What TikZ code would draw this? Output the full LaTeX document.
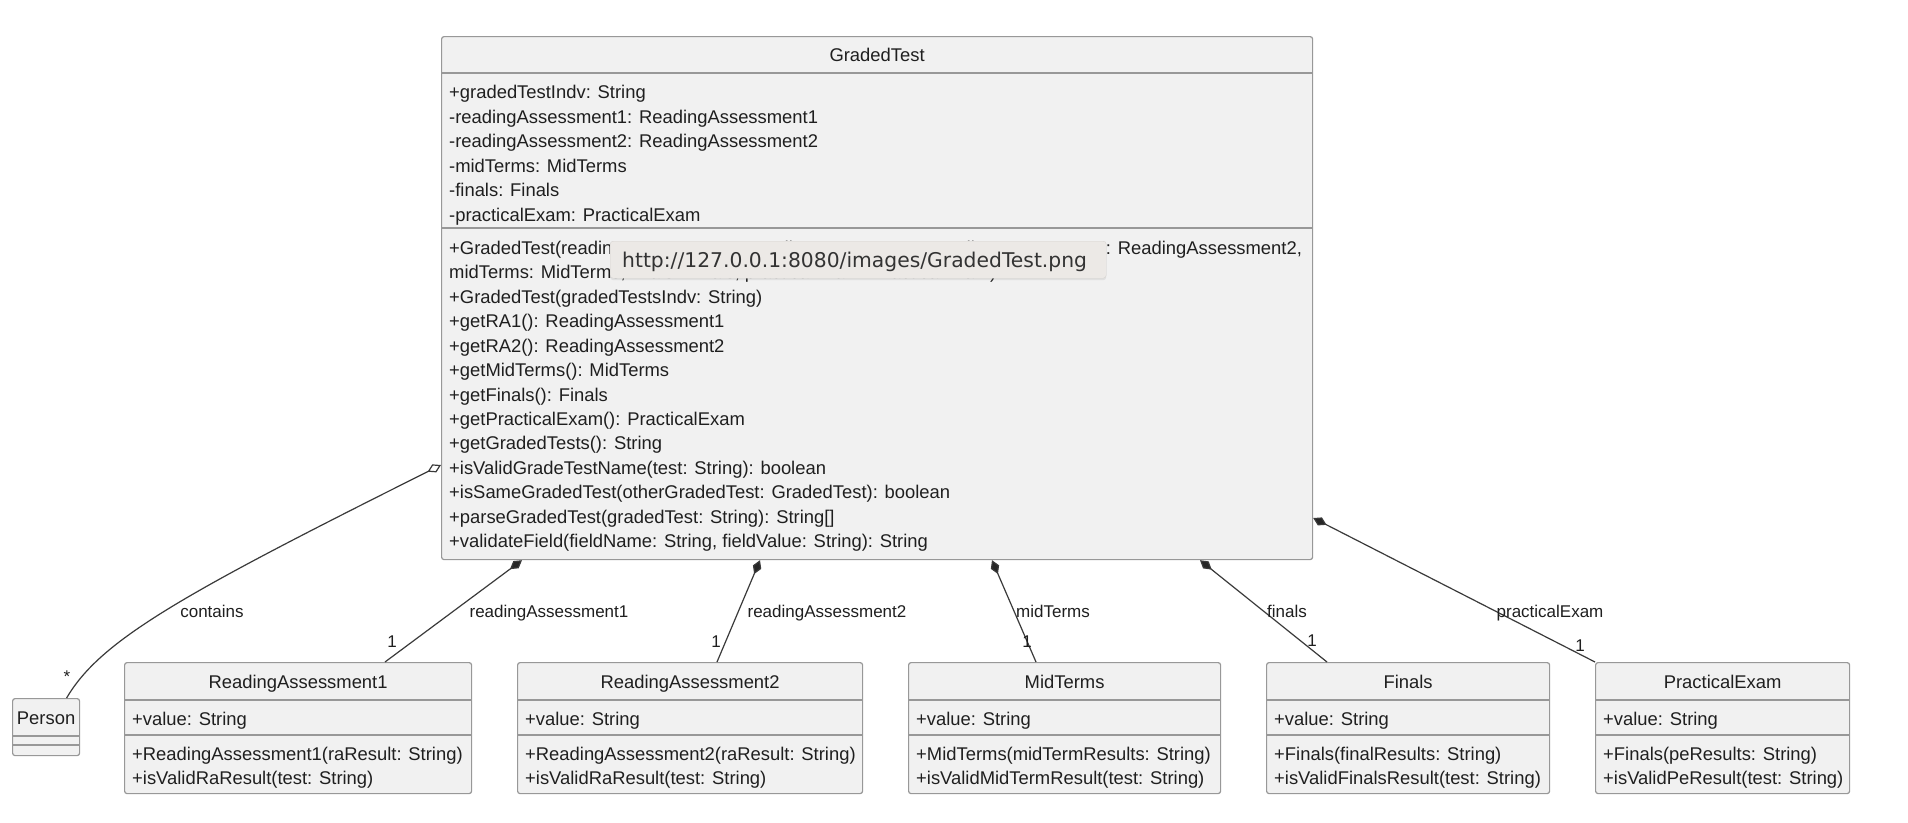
\documentclass[tikz,border=0pt]{standalone}
\usepackage{fontspec}
\setmainfont{Liberation Sans}
\newfontfamily\tipfont{DejaVu Sans}
\usetikzlibrary{arrows.meta, positioning, shadows}

\definecolor{boxfill}{HTML}{F1F1F1}
\definecolor{boxline}{HTML}{989898}
\definecolor{linkline}{HTML}{3A3A3A}
\definecolor{tipfill}{HTML}{ECE9E6}
\definecolor{tipline}{HTML}{D6D3D0}
\definecolor{tiptext}{HTML}{333333}

\newcommand{\umlfont}{\fontsize{18.4}{24.45}\selectfont}
\newcommand{\umlrolefont}{\fontsize{17}{20}\selectfont}

\begin{document}
\begin{tikzpicture}[
  x=1pt, y=-1pt,
  classbox/.style={draw=boxline, fill=boxfill, line width=1.2pt, rounded corners=2.5pt, inner sep=0pt, anchor=north west},
  sepline/.style={draw=boxline, line width=1.2pt},
  classname/.style={font=\umlfont, text=black!88, inner sep=0pt, anchor=base},
  members/.style={font=\umlfont, text=black!88, align=left, inner sep=0pt},
  rolelabel/.style={font=\umlrolefont, text=black!88, inner sep=0pt, anchor=base},
  tipbox/.style={draw=tipline, fill=tipfill, rounded corners=3pt, inner sep=0pt, anchor=north west,
    drop shadow={shadow xshift=0pt, shadow yshift=-2pt, opacity=0.15}},
  compo/.style={draw=linkline, line width=1.2pt, {Diamond[length=15pt, width=9pt, fill=black!85]}-},
  aggro/.style={draw=linkline, line width=1.2pt, {Diamond[open, length=15pt, width=9pt]}-}
]
\path[use as bounding box, fill=white] (0,0) rectangle (1908,822);

% GradedTest
\node[classbox, minimum width=871pt, minimum height=523pt] (gt) at (441,36) {};
\node[classname] (gtName) at ([yshift=-25.6pt]gt.north) {GradedTest};
\draw[sepline] ([yshift=-37pt]gt.north west) -- ([yshift=-37pt]gt.north east);
\draw[sepline] ([yshift=-192pt]gt.north west) -- ([yshift=-192pt]gt.north east);
\node[members, below right=49.3pt and 8pt of gt.north west] (gtAttr) {+gradedTestIndv: String\\
  -readingAssessment1: ReadingAssessment1\\
  -readingAssessment2: ReadingAssessment2\\
  -midTerms: MidTerms\\
  -finals: Finals\\
  -practicalExam: PracticalExam};
\node[members, below right=204.8pt and 8pt of gt.north west] (gtOps) {+GradedTest(readingAssessment1: ReadingAssessment1, readingAssessment2: ReadingAssessment2,\\
  midTerms: MidTerms, finals: Finals, practicalExam: PracticalExam)\\
  +GradedTest(gradedTestsIndv: String)\\
  +getRA1(): ReadingAssessment1\\
  +getRA2(): ReadingAssessment2\\
  +getMidTerms(): MidTerms\\
  +getFinals(): Finals\\
  +getPracticalExam(): PracticalExam\\
  +getGradedTests(): String\\
  +isValidGradeTestName(test: String): boolean\\
  +isSameGradedTest(otherGradedTest: GradedTest): boolean\\
  +parseGradedTest(gradedTest: String): String[]\\
  +validateField(fieldName: String, fieldValue: String): String};

% tooltip over the class
\node[tipbox, minimum width=496pt, minimum height=37pt] (tip) at (610,241) {};
\node[font=\tipfont\fontsize{20.3}{24}\selectfont, text=tiptext, inner sep=0pt, anchor=base west] (tipText) at (622,267) {http://127.0.0.1:8080/images/GradedTest.png};

% Person
\node[classbox, minimum width=67pt, minimum height=57pt] (person) at (12,698) {};
\node[classname] (personName) at ([yshift=-26pt]person.north) {Person};
\draw[sepline] ([yshift=-38pt]person.north west) -- ([yshift=-38pt]person.north east);
\draw[sepline] ([yshift=-47pt]person.north west) -- ([yshift=-47pt]person.north east);

% ReadingAssessment1
\node[classbox, minimum width=347pt, minimum height=131pt] (ra1) at (124,662) {};
\node[classname] (ra1Name) at ([yshift=-26pt]ra1.north) {ReadingAssessment1};
\draw[sepline] ([yshift=-38pt]ra1.north west) -- ([yshift=-38pt]ra1.north east);
\draw[sepline] ([yshift=-73pt]ra1.north west) -- ([yshift=-73pt]ra1.north east);
\node[members, below right=49.8pt and 8pt of ra1.north west] (ra1Attr) {+value: String};
\node[members, below right=84.8pt and 8pt of ra1.north west] (ra1Ops) {+ReadingAssessment1(raResult: String)\\+isValidRaResult(test: String)};

% ReadingAssessment2
\node[classbox, minimum width=345pt, minimum height=131pt] (ra2) at (517,662) {};
\node[classname] (ra2Name) at ([yshift=-26pt]ra2.north) {ReadingAssessment2};
\draw[sepline] ([yshift=-38pt]ra2.north west) -- ([yshift=-38pt]ra2.north east);
\draw[sepline] ([yshift=-73pt]ra2.north west) -- ([yshift=-73pt]ra2.north east);
\node[members, below right=49.8pt and 8pt of ra2.north west] (ra2Attr) {+value: String};
\node[members, below right=84.8pt and 8pt of ra2.north west] (ra2Ops) {+ReadingAssessment2(raResult: String)\\+isValidRaResult(test: String)};

% MidTerms
\node[classbox, minimum width=312pt, minimum height=131pt] (mid) at (908,662) {};
\node[classname] (midName) at ([yshift=-26pt]mid.north) {MidTerms};
\draw[sepline] ([yshift=-38pt]mid.north west) -- ([yshift=-38pt]mid.north east);
\draw[sepline] ([yshift=-73pt]mid.north west) -- ([yshift=-73pt]mid.north east);
\node[members, below right=49.8pt and 8pt of mid.north west] (midAttr) {+value: String};
\node[members, below right=84.8pt and 8pt of mid.north west] (midOps) {+MidTerms(midTermResults: String)\\+isValidMidTermResult(test: String)};

% Finals
\node[classbox, minimum width=283pt, minimum height=131pt] (fin) at (1266,662) {};
\node[classname] (finName) at ([yshift=-26pt]fin.north) {Finals};
\draw[sepline] ([yshift=-38pt]fin.north west) -- ([yshift=-38pt]fin.north east);
\draw[sepline] ([yshift=-73pt]fin.north west) -- ([yshift=-73pt]fin.north east);
\node[members, below right=49.8pt and 8pt of fin.north west] (finAttr) {+value: String};
\node[members, below right=84.8pt and 8pt of fin.north west] (finOps) {+Finals(finalResults: String)\\+isValidFinalsResult(test: String)};

% PracticalExam
\node[classbox, minimum width=254pt, minimum height=131pt] (pe) at (1595,662) {};
\node[classname] (peName) at ([yshift=-26pt]pe.north) {PracticalExam};
\draw[sepline] ([yshift=-38pt]pe.north west) -- ([yshift=-38pt]pe.north east);
\draw[sepline] ([yshift=-73pt]pe.north west) -- ([yshift=-73pt]pe.north east);
\node[members, below right=49.8pt and 8pt of pe.north west] (peAttr) {+value: String};
\node[members, below right=84.8pt and 8pt of pe.north west] (peOps) {+Finals(peResults: String)\\+isValidPeResult(test: String)};

% Links
\draw[aggro] ([yshift=-429pt]gt.north west) .. controls +(-260,130) and +(34,-58) .. ([xshift=20.5pt]person.north);
\draw[compo] ([xshift=81pt]gt.south west) -- ([xshift=261pt]ra1.north west);
\draw[compo] ([xshift=319pt]gt.south west) -- ([xshift=200pt]ra2.north west);
\draw[compo] ([xshift=551pt]gt.south west) -- ([xshift=128pt]mid.north west);
\draw[compo] ([xshift=759pt]gt.south west) -- ([xshift=61pt]fin.north west);
\draw[compo] ([yshift=-482pt]gt.north east) -- (pe.north west);

% Link labels
\node[rolelabel] (lblContains) at (212,617.5) {contains};
\node[rolelabel] (lblMany)     at (67,682)    {*};
\node[rolelabel] (lblRa1)      at (549,617.5) {readingAssessment1};
\node[rolelabel] (lblRa1One)   at (392,647)   {1};
\node[rolelabel] (lblRa2)      at (827,617.5) {readingAssessment2};
\node[rolelabel] (lblRa2One)   at (716,647)   {1};
\node[rolelabel] (lblMid)      at (1053,617.5) {midTerms};
\node[rolelabel] (lblMidOne)   at (1027,647)  {1};
\node[rolelabel] (lblFin)      at (1287,617.5) {finals};
\node[rolelabel] (lblFinOne)   at (1312,646)  {1};
\node[rolelabel] (lblPe)       at (1550,617.5) {practicalExam};
\node[rolelabel] (lblPeOne)    at (1580,651)  {1};
\end{tikzpicture}
\end{document}
